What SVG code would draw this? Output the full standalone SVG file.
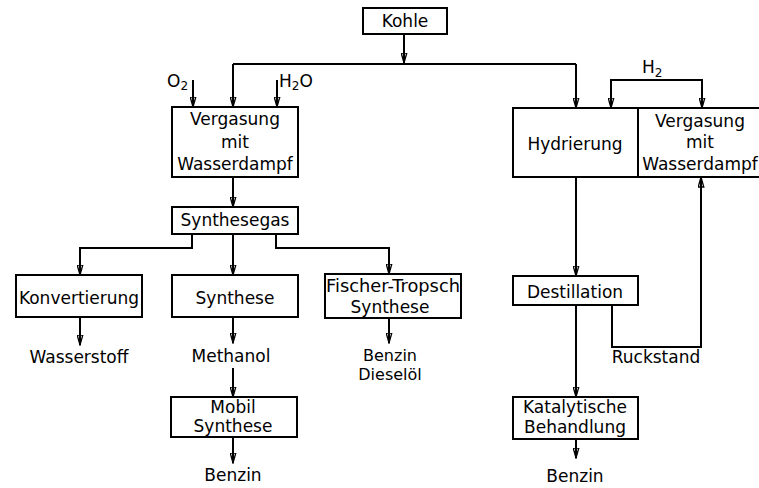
<svg xmlns="http://www.w3.org/2000/svg" width="759" height="488" viewBox="0 0 759 488">
<defs>
<style>
.box{fill:#fff;stroke:#000;stroke-width:2}
.t{font-family:"DejaVu Sans","Liberation Sans",sans-serif;font-size:17px;fill:#000;text-anchor:middle}
.c{fill:none;stroke:#000;stroke-width:2}
</style>
<marker id="ah" viewBox="0 0 11 7" refX="10.5" refY="3.5" markerWidth="11" markerHeight="7" markerUnits="userSpaceOnUse" orient="auto">
<path d="M0.5,0.7 L10.5,3.5 L0.5,6.3 Z" fill="none" stroke="#000" stroke-width="1.3"/>
</marker>
</defs>
<rect width="759" height="488" fill="#fff"/>
<g id="connectors">
<path class="c" d="M404,34 V63" marker-end="url(#ah)"/>
<path class="c" d="M233,64 H576"/>
<path class="c" d="M233,64 V107" marker-end="url(#ah)"/>
<path class="c" d="M576,64 V108" marker-end="url(#ah)"/>
<path class="c" d="M193,80 V107" marker-end="url(#ah)"/>
<path class="c" d="M277,80 V107" marker-end="url(#ah)"/>
<path class="c" d="M233,177 V207" marker-end="url(#ah)"/>
<path class="c" d="M192,234 V248 H80 V275" marker-end="url(#ah)"/>
<path class="c" d="M233,234 V275" marker-end="url(#ah)"/>
<path class="c" d="M276,234 V248 H389 V274" marker-end="url(#ah)"/>
<path class="c" d="M80,317 V345" marker-end="url(#ah)"/>
<path class="c" d="M233,317 V343" marker-end="url(#ah)"/>
<path class="c" d="M389,318 V343" marker-end="url(#ah)"/>
<path class="c" d="M233,368 V397" marker-end="url(#ah)"/>
<path class="c" d="M233,437 V463" marker-end="url(#ah)"/>
<path class="c" d="M656,80 H611 V108" marker-end="url(#ah)"/>
<path class="c" d="M656,80 H702 V108" marker-end="url(#ah)"/>
<path class="c" d="M576,177 V276" marker-end="url(#ah)"/>
<path class="c" d="M576,305 V397" marker-end="url(#ah)"/>
<path class="c" d="M576,439 V458" marker-end="url(#ah)"/>
<path class="c" d="M612,305 V347 H701 V177" marker-end="url(#ah)"/>
</g>
<g id="kohle">
<rect class="box" x="363" y="8" width="84" height="26"/>
<text class="t" x="405" y="27">Kohle</text>
</g>
<g id="o2">
<text class="t" x="167" y="87" style="text-anchor:start">O<tspan font-size="12" dy="3">2</tspan></text>
</g>
<g id="h2o">
<text class="t" x="279" y="87" style="text-anchor:start">H<tspan font-size="12" dy="3">2</tspan><tspan dy="-3">O</tspan></text>
</g>
<g id="vergasung1">
<rect class="box" x="172" y="107" width="126" height="70"/>
<text class="t" x="235" y="125">Vergasung</text>
<text class="t" x="235" y="148">mit</text>
<text class="t" x="235" y="170">Wasserdampf</text>
</g>
<g id="synthesegas">
<rect class="box" x="172" y="207" width="126" height="27"/>
<text class="t" x="235" y="226">Synthesegas</text>
</g>
<g id="konvertierung">
<rect class="box" x="16" y="275" width="126" height="42"/>
<text class="t" x="79" y="304">Konvertierung</text>
</g>
<g id="wasserstoff">
<text class="t" x="79" y="363">Wasserstoff</text>
</g>
<g id="synthese">
<rect class="box" x="172" y="275" width="126" height="42"/>
<text class="t" x="235" y="304">Synthese</text>
</g>
<g id="methanol">
<text class="t" x="231" y="362">Methanol</text>
</g>
<g id="mobil">
<rect class="box" x="171" y="397" width="126" height="40"/>
<text class="t" x="233" y="413">Mobil</text>
<text class="t" x="233" y="432">Synthese</text>
</g>
<g id="benzin1">
<text class="t" x="233" y="481">Benzin</text>
</g>
<g id="fischer">
<rect class="box" x="325" y="274" width="136" height="44"/>
<text class="t" x="393" y="292" textLength="134" lengthAdjust="spacingAndGlyphs">Fischer-Tropsch</text>
<text class="t" x="390" y="313">Synthese</text>
</g>
<g id="benzin-diesel">
<text class="t" x="390" y="361" font-size="16" style="font-size:16px">Benzin</text>
<text class="t" x="390" y="380" font-size="16" style="font-size:16px">Dieselöl</text>
</g>
<g id="h2">
<text class="t" x="642" y="73" style="text-anchor:start">H<tspan font-size="12" dy="4">2</tspan></text>
</g>
<g id="hydrierung">
<rect class="box" x="513" y="108" width="125" height="69"/>
<text class="t" x="575" y="150">Hydrierung</text>
</g>
<g id="vergasung2">
<rect class="box" x="638" y="108" width="125" height="69"/>
<text class="t" x="700" y="127">Vergasung</text>
<text class="t" x="700" y="148">mit</text>
<text class="t" x="700" y="170">Wasserdampf</text>
</g>
<g id="destillation">
<rect class="box" x="513" y="276" width="125" height="29"/>
<text class="t" x="575" y="298">Destillation</text>
</g>
<g id="ruckstand">
<text class="t" x="656" y="363">Ruckstand</text>
</g>
<g id="katalytisch">
<rect class="box" x="513" y="397" width="125" height="42"/>
<text class="t" x="575" y="413">Katalytische</text>
<text class="t" x="575" y="433">Behandlung</text>
</g>
<g id="benzin2">
<text class="t" x="575" y="482">Benzin</text>
</g>
</svg>
